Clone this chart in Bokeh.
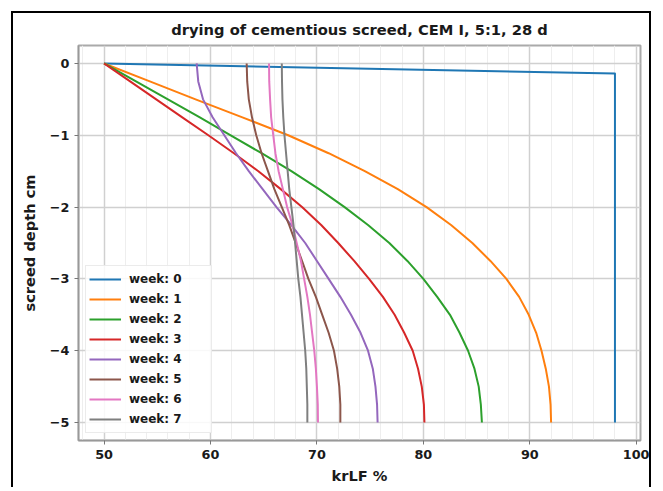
from bokeh.plotting import figure
from bokeh.models import FixedTicker, Legend, LegendItem, Range1d
from bokeh.embed import file_html
from bokeh.resources import INLINE

title_text = "drying of cementious screed, CEM I, 5:1, 28 d"
x_label = "krLF %"
y_label = "screed depth cm"

depth = [0, -0.25, -0.5, -0.75, -1, -1.25, -1.5, -1.75, -2, -2.25, -2.5,
         -2.75, -3, -3.25, -3.5, -3.75, -4, -4.25, -4.5, -4.75, -5]
depth_week0 = [0, -0.14, -5]

week0 = [50, 98, 98]
week1 = [50, 54.3, 58.6, 63.0, 67.3, 71.1, 74.5, 77.6, 80.3, 82.6, 84.6,
         86.3, 87.8, 89.0, 89.9, 90.6, 91.1, 91.5, 91.8, 91.95, 92.0]
week2 = [50, 53.0, 56.0, 59.0, 61.9, 64.8, 67.6, 70.2, 72.6, 74.8, 76.8,
         78.5, 80.0, 81.3, 82.5, 83.4, 84.2, 84.8, 85.2, 85.4, 85.5]
week3 = [50, 52.45, 54.9, 57.35, 59.8, 62.2, 64.5, 66.6, 68.6, 70.4, 72.0,
         73.5, 74.9, 76.2, 77.3, 78.2, 79.0, 79.5, 79.85, 80.05, 80.1]
week4 = [58.7, 58.85, 59.3, 60.2, 61.3, 62.4, 63.6, 64.9, 66.2, 67.6, 68.9,
         70.0, 71.1, 72.2, 73.2, 74.1, 74.8, 75.25, 75.5, 75.65, 75.7]
week5 = [63.4, 63.45, 63.6, 63.9, 64.3, 64.8, 65.4, 66.0, 66.7, 67.4, 68.0,
         68.6, 69.2, 69.9, 70.5, 71.1, 71.6, 71.9, 72.1, 72.2, 72.2]
week6 = [65.5, 65.52, 65.6, 65.7, 65.9, 66.1, 66.4, 66.8, 67.2, 67.7, 68.1,
         68.5, 68.8, 69.1, 69.35, 69.55, 69.75, 69.9, 70.0, 70.08, 70.1]
week7 = [66.7, 66.72, 66.76, 66.84, 66.95, 67.1, 67.25, 67.4, 67.6, 67.8, 67.95,
         68.1, 68.25, 68.45, 68.6, 68.75, 68.9, 69.0, 69.05, 69.1, 69.1]

week_labels = ["week: 0", "week: 1", "week: 2", "week: 3",
               "week: 4", "week: 5", "week: 6", "week: 7"]
colors = ["#1f77b4", "#ff7f0e", "#2ca02c", "#d62728",
          "#9467bd", "#8c564b", "#e377c2", "#7f7f7f"]

x_ticks = [50, 60, 70, 80, 90, 100]
x_tick_labels = ["50", "60", "70", "80", "90", "100"]
x_minor = [48, 52, 54, 56, 58, 62, 64, 66, 68, 72, 74, 76, 78, 82, 84, 86, 88, 92, 94, 96, 98]
y_ticks = [0, -1, -2, -3, -4, -5]
y_tick_labels = ["0", "\u22121", "\u22122", "\u22123", "\u22124", "\u22125"]

FONT = "DejaVu Sans"

p = figure(width=640, height=476, output_backend="svg", toolbar_location=None,
           x_range=Range1d(47.6, 100.4), y_range=Range1d(-5.25, 0.25),
           min_border_left=65, min_border_right=13, min_border_top=32,
           min_border_bottom=49, title=title_text)
p.styles = {"border-top": "2px solid black", "border-left": "2px solid black",
            "border-right": "2px solid black", "margin-left": "11px", "margin-top": "11px"}

p.title.align = "center"
p.title.vertical_align = "top"
p.title.text_font = FONT
p.title.text_font_size = "14.7px"
p.title.text_font_style = "bold"
p.title.text_color = "#1a1a1a"
p.title.standoff = 12

p.outline_line_color = "#aaaaaa"
p.outline_line_width = 2

for ax in (p.xaxis[0], p.yaxis[0]):
    ax.axis_line_color = "#999999"
    ax.axis_line_width = 1.5
    ax.major_tick_line_color = "#777777"
    ax.major_tick_out = 4
    ax.major_tick_in = 0
    ax.minor_tick_line_color = None
    ax.major_label_text_font = FONT
    ax.major_label_text_font_size = "12.8px"
    ax.major_label_text_font_style = "bold"
    ax.major_label_text_color = "#1a1a1a"
    ax.axis_label_text_font = FONT
    ax.axis_label_text_font_size = "14.6px"
    ax.axis_label_text_font_style = "bold"
    ax.axis_label_text_color = "#1a1a1a"

p.yaxis.axis_label_standoff = 9

p.xaxis.ticker = FixedTicker(ticks=x_ticks, minor_ticks=x_minor)
p.xaxis.major_label_overrides = dict(zip(x_ticks, x_tick_labels))
p.yaxis.ticker = FixedTicker(ticks=y_ticks)
p.yaxis.major_label_overrides = dict(zip(y_ticks, y_tick_labels))
p.xaxis.axis_label = x_label
p.yaxis.axis_label = y_label

p.xgrid.grid_line_color = "#d0d0d0"
p.xgrid.grid_line_width = 1.5
p.xgrid.minor_grid_line_color = "#eeeeee"
p.ygrid.grid_line_color = "#d0d0d0"
p.ygrid.grid_line_width = 1.5

series = [week0, week1, week2, week3, week4, week5, week6, week7]
items = []
for i, vals in enumerate(series):
    ys = depth_week0 if i == 0 else depth
    r = p.line(vals, ys, line_color=colors[i], line_width=2, line_join="round")
    items.append(LegendItem(label=week_labels[i], renderers=[r]))

legend = Legend(items=items, location="bottom_left", margin=7, padding=3, spacing=0,
                glyph_width=32, glyph_height=20, label_height=20, label_standoff=8,
                label_width=79,
                label_text_font=FONT, label_text_font_size="12px",
                label_text_font_style="bold", label_text_color="#1a1a1a",
                border_line_color="#d8d8d8", background_fill_alpha=0.85)
p.add_layout(legend)

open("out.html", "w").write(file_html(p, INLINE))
